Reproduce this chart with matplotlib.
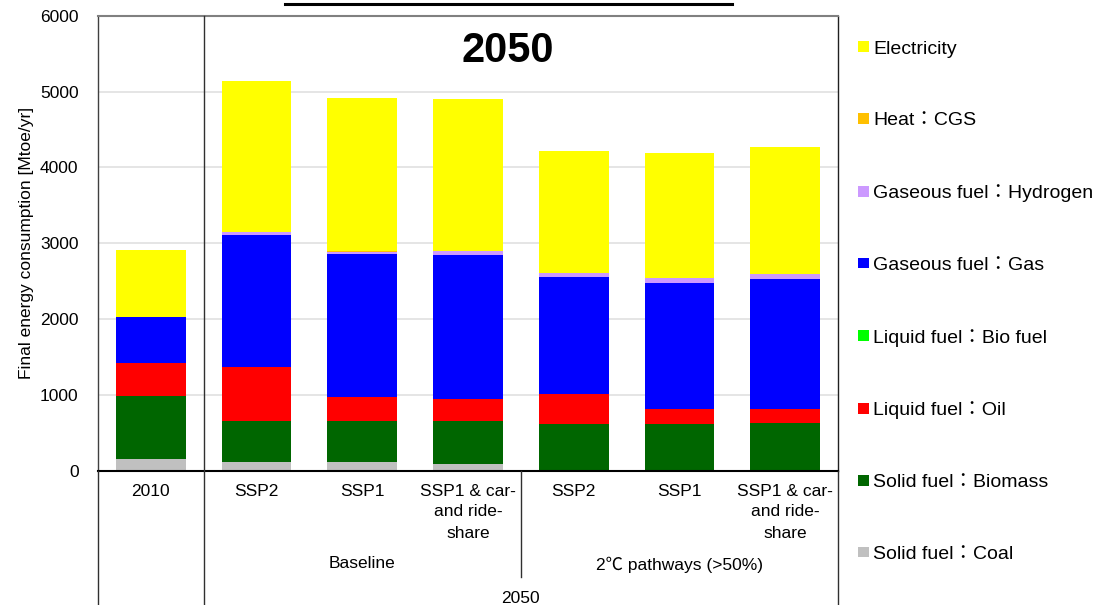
import matplotlib
matplotlib.use("Agg")
import matplotlib.pyplot as plt
from matplotlib.patches import Patch
from matplotlib.lines import Line2D
import numpy as np

plt.rcParams['font.family'] = ['Liberation Sans', 'Noto Sans CJK JP', 'DejaVu Sans']

# Scenario columns
categories = ["2010", "SSP2", "SSP1", "SSP1 & car-\nand ride-\nshare",
              "SSP2", "SSP1", "SSP1 & car-\nand ride-\nshare"]
groups = ["Baseline", "2℃ pathways (>50%)"]
period_label = "2050"

# Final energy consumption by carrier [Mtoe/yr], stacked bottom to top
coal        = [154, 123, 119,  97,    8,    8,    8]
biomass     = [838, 536, 536, 558,  607,  616,  620]
oil         = [431, 707, 316, 290,  395,  189,  193]
bio_fuel    = [  0,   0,   0,   0,    0,    0,    0]
gas         = [611, 1748, 1893, 1902, 1551, 1669, 1714]
hydrogen    = [  0,  32,  28,  56,   44,   57,   61]
heat_cgs    = [  0,   0,  12,   0,    0,    0,    0]
electricity = [883, 1994, 2013, 2004, 1608, 1652, 1670]

layers = [
    ("Solid fuel：Coal", coal, "#C0C0C0"),
    ("Solid fuel：Biomass", biomass, "#006600"),
    ("Liquid fuel：Oil", oil, "#FF0000"),
    ("Liquid fuel：Bio fuel", bio_fuel, "#00FF00"),
    ("Gaseous fuel：Gas", gas, "#0000FF"),
    ("Gaseous fuel：Hydrogen", hydrogen, "#CC99FF"),
    ("Heat：CGS", heat_cgs, "#FFC000"),
    ("Electricity", electricity, "#FFFF00"),
]

W, H = 1095, 605
fig = plt.figure(figsize=(W / 100, H / 100), dpi=100)
ax = fig.add_axes([98 / W, 1 - 471 / H, 740 / W, (471 - 15.7) / H])

x = np.arange(len(categories))
bottom = np.zeros(len(categories))
handles = []
for name, vals, color in layers:
    v = np.array(vals, dtype=float)
    ax.bar(x, v, width=0.66, bottom=bottom, color=color, linewidth=0, zorder=2)
    bottom += v
    handles.append(Patch(facecolor=color, edgecolor='none', label=name))

ax.set_xlim(-0.5, len(categories) - 0.5)
ax.set_ylim(0, 6000)
ax.set_yticks(np.arange(0, 6001, 1000))
ax.yaxis.grid(True, color="#E0E0E0", linewidth=1.2, zorder=0)
ax.set_axisbelow(True)
ax.tick_params(axis='y', length=0, pad=14, labelsize=12.5)
ax.set_xticks(x)
ax.set_xticklabels(categories, fontsize=12.5, linespacing=1.5)
ax.tick_params(axis='x', length=0, pad=9)

ax.set_ylabel("Final energy consumption [Mtoe/yr]", fontsize=12.5, va='center')
ax.yaxis.set_label_coords(-0.096, 0.5)

for side, col, lw in [("left", "#404040", 1.0), ("right", "#202020", 1.0),
                      ("top", "#808080", 1.5), ("bottom", "#000000", 1.5)]:
    ax.spines[side].set_color(col)
    ax.spines[side].set_linewidth(lw)

trans = ax.get_xaxis_transform()
# Frame lines running into the category label area
for xv, y0, y1 in [(-0.5, 0, -0.32), (6.5, 0, -0.32), (0.5, 1, -0.32), (3.5, 0, -0.233)]:
    ax.plot([xv, xv], [y0, y1], transform=trans, color="#303030", linewidth=1.0,
            clip_on=False, zorder=3)

# Group labels and period label
ax.text(2, -0.204, groups[0], transform=trans, ha='center', va='center', fontsize=12.5)
ax.text(5, -0.206, groups[1], transform=trans, ha='center', va='center', fontsize=12.5)
ax.text(3.5, -0.279, period_label, transform=trans, ha='center', va='center', fontsize=12.5)

ax.text(0.554, 0.922, period_label, transform=ax.transAxes, ha='center', va='center',
        fontsize=30, fontweight='bold')

fig.add_artist(Line2D([285 / W, 732 / W], [1 - 4 / H, 1 - 4 / H], color='black',
                      linewidth=2.2, transform=fig.transFigure))

fig.legend(handles=handles[::-1], loc='upper left', bbox_to_anchor=(858 / W, 1 - 40.5 / H),
           frameon=False, fontsize=14, handlelength=0.57, handleheight=0.47,
           handletextpad=0.2, labelspacing=2.82, borderaxespad=0, borderpad=0)

fig.savefig("out.png", dpi=100)
